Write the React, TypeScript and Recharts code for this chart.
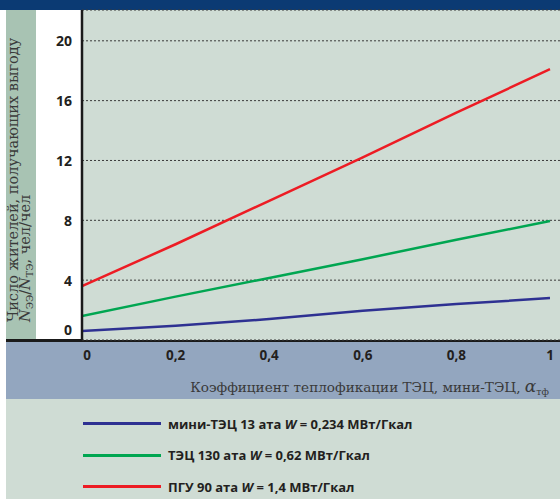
import React from "react";
import { LineChart, Line, XAxis, YAxis, CartesianGrid, Legend } from "recharts";

// коэффициент теплофикации
const alphaValues = [0, 0.2, 0.4, 0.6, 0.8, 1];
// число жителей, получающих выгоду
const miniTecValues = [0.6, 0.95, 1.4, 1.95, 2.4, 2.8];
const tecValues = [1.6, 2.9, 4.15, 5.4, 6.7, 7.95];
const pguValues = [3.6, 6.4, 9.3, 12.2, 15.2, 18.1];

const xTicks = [0, 0.2, 0.4, 0.6, 0.8, 1];
const xTickLabels = ["0", "0,2", "0,4", "0,6", "0,8", "1"];
const yTicks = [0, 4, 8, 12, 16, 20];

const series = [
  { key: "mini", name: "мини-ТЭЦ 13 ата", w: "0,234", color: "#2e3192" },
  { key: "tec", name: "ТЭЦ 130 ата", w: "0,62", color: "#00a651" },
  { key: "pgu", name: "ПГУ 90 ата", w: "1,4", color: "#ed1c24" },
];

const data = alphaValues.map((a, i) => ({
  a,
  mini: miniTecValues[i],
  tec: tecValues[i],
  pgu: pguValues[i],
}));

const SANS = "'Open Sans', 'Noto Sans', sans-serif";
const SERIF = "'DejaVu Serif', serif";
const INK = "#231f20";

const XTick = (props: any) => {
  const { x, y, payload } = props;
  const idx = xTicks.indexOf(payload.value);
  return (
    <text
      x={payload.value === 0 ? x + 5 : x}
      y={y}
      textAnchor="middle"
      dominantBaseline="central"
      fontFamily={SANS}
      fontWeight={700}
      fontSize={13.5}
      fill={INK}
    >
      {xTickLabels[idx] ?? payload.value}
    </text>
  );
};

const YTick = (props: any) => {
  const { x, y, payload } = props;
  return (
    <text
      x={x - 1}
      y={payload.value === 0 ? y - 11 : y}
      textAnchor="end"
      dominantBaseline="central"
      fontFamily={SANS}
      fontWeight={700}
      fontSize={14}
      fill={INK}
    >
      {payload.value}
    </text>
  );
};

const YTitle = () => (
  <g fontFamily={SERIF} fontSize={14.5} fill="#3a3a3a">
    <text transform="translate(17.5,322) rotate(-90)">Число жителей, получающих выгоду</text>
    <text transform="translate(30,322) rotate(-90)">
      <tspan fontStyle="italic">N</tspan>
      <tspan fontSize={9.5} dy={2.5}>ЭЭ</tspan>
      <tspan dy={-2.5}>/</tspan>
      <tspan fontStyle="italic">N</tspan>
      <tspan fontSize={9.5} dy={2.5}>ТЭ</tspan>
      <tspan dy={-2.5}>, чел/чел</tspan>
    </text>
  </g>
);

const XTitle = () => (
  <text x={549} y={392} textAnchor="end" fontFamily={SERIF} fontSize={13.6} fill="#3a3a3a">
    Коэффициент теплофикации ТЭЦ, мини-ТЭЦ,{" "}
    <tspan fontStyle="italic" fontSize={17}>α</tspan>
    <tspan fontSize={9.5} dy={3}>тф</tspan>
  </text>
);

const renderLegend = (props: any) => {
  const { payload } = props;
  return (
    <div>
      {series.map((s) => {
        const p = (payload || []).find((x: any) => x.dataKey === s.key);
        return (
          <div key={s.key} style={{ display: "flex", alignItems: "center", height: 31.5 }}>
            <span style={{ width: 78, height: 3, background: p?.color ?? s.color, marginRight: 7 }} />
            <span
              style={{
                fontFamily: SANS,
                fontWeight: 700,
                fontSize: 13,
                color: INK,
                whiteSpace: "nowrap",
              }}
            >
              {s.name} <i>W</i> = {s.w} МВт/Гкал
            </span>
          </div>
        );
      })}
    </div>
  );
};

export default function App() {
  return (
    <div
      style={{
        position: "absolute",
        left: 0,
        top: 0,
        width: 560,
        height: 499,
        background: "#ffffff",
        overflow: "hidden",
      }}
    >
      <div style={{ position: "absolute", left: 0, top: 0, width: 560, height: 10, background: "#0b3a73" }} />
      <div style={{ position: "absolute", left: 6, top: 10, width: 30, height: 330, background: "#a8c3b3" }} />
      <div
        style={{
          position: "absolute",
          left: 6,
          top: 339,
          width: 554,
          height: 57,
          background: "#93a6bf",
          borderTop: "3px solid #1a1a1a",
        }}
      />
      <div style={{ position: "absolute", left: 6, top: 399, width: 554, height: 100, background: "#cfdcd4" }} />
      <div style={{ position: "absolute", left: 0, top: 0 }}>
        <LineChart width={560} height={499} data={data} margin={{ top: 10, right: 0, bottom: 119, left: 0 }}>
          <CartesianGrid
            vertical={false}
            fill="#cfdcd4"
            stroke="#3a3a3a"
            strokeDasharray="2 2"
          />
          <XAxis
            dataKey="a"
            type="number"
            domain={[0, 1 + 10 / 468]}
            ticks={xTicks}
            allowDataOverflow
            height={40}
            axisLine={false}
            tickLine={false}
            tickSize={0}
            tickMargin={15}
            tick={<XTick />}
            label={<XTitle />}
          />
          <YAxis
            type="number"
            domain={[0, 330 / 14.96]}
            ticks={yTicks}
            allowDataOverflow
            width={82}
            axisLine={{ stroke: "#1a1a1a", strokeWidth: 2.5 }}
            tickLine={false}
            tickSize={0}
            tickMargin={9}
            tick={<YTick />}
            label={<YTitle />}
          />
          <Legend
            layout="horizontal"
            align="center"
            verticalAlign="middle"
            content={renderLegend}
            wrapperStyle={{ left: 83, top: 408, width: 420 }}
          />
          {series.map((s) => (
            <Line
              key={s.key}
              dataKey={s.key}
              name={s.name}
              type="linear"
              stroke={s.color}
              strokeWidth={2.5}
              dot={false}
              activeDot={false}
              isAnimationActive={false}
            />
          ))}
        </LineChart>
      </div>
    </div>
  );
}
